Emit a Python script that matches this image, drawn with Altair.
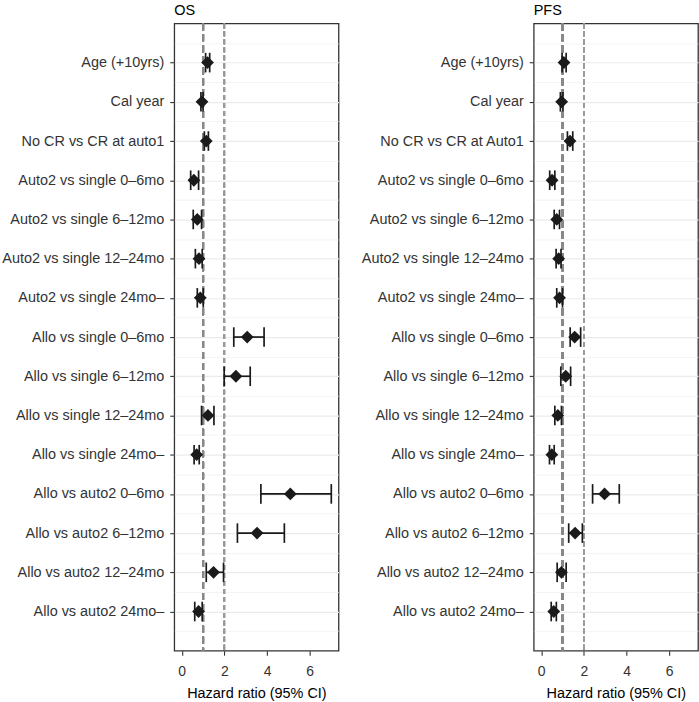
import json
import altair as alt
import pandas as pd

labels_os = ["Age (+10yrs)", "Cal year", "No CR vs CR at auto1",
             "Auto2 vs single 0–6mo", "Auto2 vs single 6–12mo", "Auto2 vs single 12–24mo",
             "Auto2 vs single 24mo–", "Allo vs single 0–6mo", "Allo vs single 6–12mo",
             "Allo vs single 12–24mo", "Allo vs single 24mo–", "Allo vs auto2 0–6mo",
             "Allo vs auto2 6–12mo", "Allo vs auto2 12–24mo", "Allo vs auto2 24mo–"]
labels_pfs = ["Age (+10yrs)", "Cal year", "No CR vs CR at Auto1",
              "Auto2 vs single 0–6mo", "Auto2 vs single 6–12mo", "Auto2 vs single 12–24mo",
              "Auto2 vs single 24mo–", "Allo vs single 0–6mo", "Allo vs single 6–12mo",
              "Allo vs single 12–24mo", "Allo vs single 24mo–", "Allo vs auto2 0–6mo",
              "Allo vs auto2 6–12mo", "Allo vs auto2 12–24mo", "Allo vs auto2 24mo–"]

os_hr = [1.21, 0.95, 1.15, 0.57, 0.73, 0.81, 0.87, 3.07, 2.54, 1.23, 0.70, 5.09, 3.53, 1.49, 0.79]
os_lo = [1.12, 0.90, 1.06, 0.42, 0.54, 0.64, 0.73, 2.44, 1.99, 0.93, 0.58, 3.71, 2.61, 1.15, 0.61]
os_hi = [1.31, 1.00, 1.25, 0.79, 0.93, 0.96, 1.01, 3.86, 3.21, 1.51, 0.82, 7.01, 4.81, 1.96, 0.96]

pfs_hr = [1.07, 0.96, 1.35, 0.51, 0.73, 0.82, 0.86, 1.57, 1.15, 0.78, 0.50, 2.97, 1.59, 0.95, 0.59]
pfs_lo = [0.98, 0.90, 1.23, 0.40, 0.61, 0.70, 0.73, 1.36, 0.92, 0.64, 0.39, 2.41, 1.29, 0.75, 0.47]
pfs_hi = [1.17, 1.02, 1.48, 0.64, 0.86, 0.93, 1.00, 1.85, 1.38, 0.95, 0.61, 3.66, 1.93, 1.17, 0.71]

x_ticks = [0, 1, 2, 3, 4, 5, 6, 7]
y_ticks = [i / 2 for i in range(-1, 30)]

FONT = "Liberation Sans"
INK = "#1a1a1a"


def panel(title, labels, hr, lo, hi):
    n = len(labels)
    df = pd.DataFrame({"label": labels, "row": list(range(n)),
                       "hr": hr, "lo": lo, "hi": hi})
    lab_js = json.dumps(labels)
    xscale = alt.Scale(domain=[-0.35, 7.35], nice=False, zero=False)
    yscale = alt.Scale(domain=[-1, 15], reverse=True, nice=False, zero=False)
    xaxis = alt.Axis(values=x_ticks, title="Hazard ratio (95% CI)",
                     labelExpr="datum.value % 2 == 0 ? datum.label : ''",
                     gridColor="#EBEBEB",
                     gridWidth={"condition": {"test": "datum.value % 2 == 0", "value": 1.2}, "value": 0.6},
                     tickOpacity={"condition": {"test": "datum.value % 2 == 0", "value": 1}, "value": 0},
                     tickColor="#333333", tickSize=4.5, tickWidth=1.1,
                     labelPadding=9, labelFontSize=14, labelColor="#333333",
                     titleFontSize=14.5, titleFontWeight="normal", titleColor="#000000",
                     titlePadding=8, domain=False, labelFont=FONT, titleFont=FONT)
    ytest = f"datum.value % 1 == 0 && datum.value >= 0 && datum.value < {n}"
    yaxis = alt.Axis(values=y_ticks, title=None,
                     labelExpr=f"{ytest} ? {lab_js}[datum.value] : ''",
                     gridColor="#EBEBEB",
                     gridWidth={"condition": {"test": "datum.value % 1 == 0", "value": 1.2}, "value": 0.6},
                     tickOpacity={"condition": {"test": ytest, "value": 1}, "value": 0},
                     tickColor="#333333", tickSize=4.5, tickWidth=1.1,
                     labelPadding=6, labelFontSize=14.5, labelColor="#333333",
                     labelLimit=300, domain=False, labelFont=FONT,
                     minExtent=174, maxExtent=174)

    base = alt.Chart(df)
    ref1 = alt.Chart(df).mark_rule(color="#888888", strokeWidth=2, strokeDash=[7, 4]).encode(
        x=alt.datum(1, scale=xscale, axis=xaxis, type="quantitative"),
        y=alt.value(0), y2=alt.value(630))
    ref2 = alt.Chart(df).mark_rule(color="#9a9a9a", strokeWidth=1.3, strokeDash=[5, 3]).encode(
        x=alt.datum(2, type="quantitative"),
        y=alt.value(0), y2=alt.value(630))
    bar = base.mark_rule(color=INK, strokeWidth=1.7).encode(
        x=alt.X("lo:Q", scale=xscale, axis=xaxis),
        x2="hi:Q",
        y=alt.Y("row:Q", scale=yscale, axis=yaxis))
    caps = base.transform_calculate(top="datum.row - 0.25", bot="datum.row + 0.25")
    caps_lo = caps.mark_rule(color=INK, strokeWidth=1.7).encode(
        x=alt.X("lo:Q", scale=xscale, axis=xaxis),
        y=alt.Y("top:Q", scale=yscale, axis=yaxis), y2="bot:Q")
    caps_hi = caps.mark_rule(color=INK, strokeWidth=1.7).encode(
        x=alt.X("hi:Q", scale=xscale, axis=xaxis),
        y=alt.Y("top:Q", scale=yscale, axis=yaxis), y2="bot:Q")
    pts = base.mark_point(shape="diamond", filled=True, size=165, color=INK, opacity=1).encode(
        x=alt.X("hr:Q", scale=xscale, axis=xaxis),
        y=alt.Y("row:Q", scale=yscale, axis=yaxis))
    return alt.layer(ref1, ref2, bar, caps_lo, caps_hi, pts).properties(
        width=165, height=630,
        title=alt.Title(title, anchor="start", frame="group", fontSize=14.5,
                        fontWeight="normal", font=FONT, color="#000000", offset=4))


left = panel("OS", labels_os, os_hr, os_lo, os_hi)
right = panel("PFS", labels_pfs, pfs_hr, pfs_lo, pfs_hi)

chart = alt.hconcat(left, right, spacing=20).properties(
    padding={"left": 0, "top": 0, "right": 0, "bottom": 0},
    background="white"
).configure_view(stroke="#333333", strokeWidth=1.3)

chart.save("out.html", embed_options={"renderer": "svg", "actions": False})
